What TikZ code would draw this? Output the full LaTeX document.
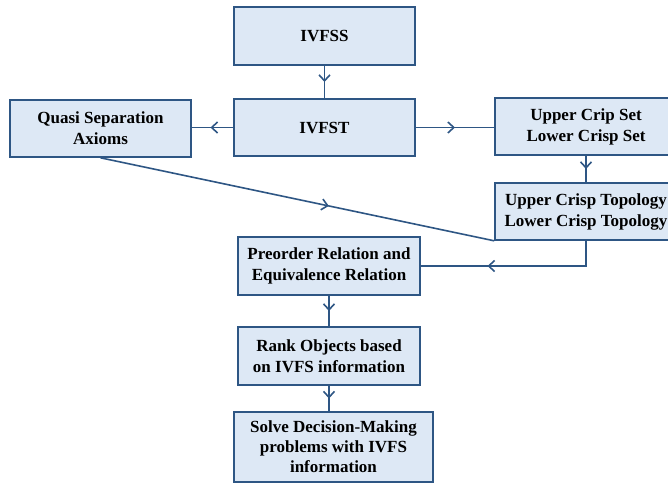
\documentclass[tikz,border=0pt]{standalone}
\usepackage{fontspec}
\setmainfont{Liberation Serif}
\usetikzlibrary{arrows.meta,decorations.markings}
\definecolor{boxfill}{RGB}{221,232,245}
\definecolor{boxline}{RGB}{46,86,132}
\tikzset{
  box/.style={draw=boxline, fill=boxfill, line width=1.6pt, inner sep=0pt,
    align=center, font=\fontsize{17}{21}\selectfont\bfseries},
  conn/.style={draw=boxline, line width=1.6pt},
  midarrow/.style={postaction={decorate},
    decoration={markings, mark=at position #1 with {\arrow{Straight Barb[length=6pt,width=11pt,line width=1.6pt]}}}}
}
\begin{document}
\begin{tikzpicture}[x=1pt,y=-1pt]
\clip (0,0) rectangle (668,483);
\useasboundingbox (0,0) rectangle (668,483);
\node[box, minimum width=181pt, minimum height=58pt] (ivfss) at (324.5,36) {IVFSS};
\node[box, minimum width=181pt, minimum height=57pt] (ivfst) at (324.5,127.5) {IVFST};
\node[box, minimum width=181pt, minimum height=57pt] (quasi) at (100.5,128.5) {Quasi Separation\\Axioms};
\node[box, minimum width=182pt, minimum height=57pt] (ucs) at (586,126.5) {Upper Crip Set\\Lower Crisp Set};
\node[box, minimum width=182pt, minimum height=57pt] (uct) at (586,211.5) {Upper Crisp Topology\\Lower Crisp Topology};
\node[box, minimum width=182pt, minimum height=58pt] (pre) at (329,266) {Preorder Relation and\\Equivalence Relation};
\node[box, minimum width=182pt, minimum height=58pt] (rank) at (329,356) {Rank Objects based\\on IVFS information};
\node[box, minimum width=199pt, minimum height=70pt, font=\fontsize{17}{20}\selectfont\bfseries] (solve) at (333.5,447) {Solve Decision-Making\\problems with IVFS\\information};
\coordinate (bend) at (uct.south |- pre.east);
\draw[conn, midarrow=0.5] (ivfss.south) -- (ivfst.north);
\draw[conn, midarrow=0.55] (ivfst.west) -- (quasi.east |- ivfst.west);
\draw[conn, midarrow=0.5] (ivfst.east) -- (ucs.west |- ivfst.east);
\draw[conn, midarrow=0.5] (ucs.south) -- (uct.north);
\draw[conn, midarrow=0.58] (quasi.south) -- (uct.south west);
\draw[conn, midarrow=0.65] (uct.south) -- (bend) -- (pre.east);
\draw[conn, midarrow=0.5] (pre.south) -- (rank.north);
\draw[conn, midarrow=0.5] (rank.south) -- (rank.south |- solve.north);
\end{tikzpicture}
\end{document}
